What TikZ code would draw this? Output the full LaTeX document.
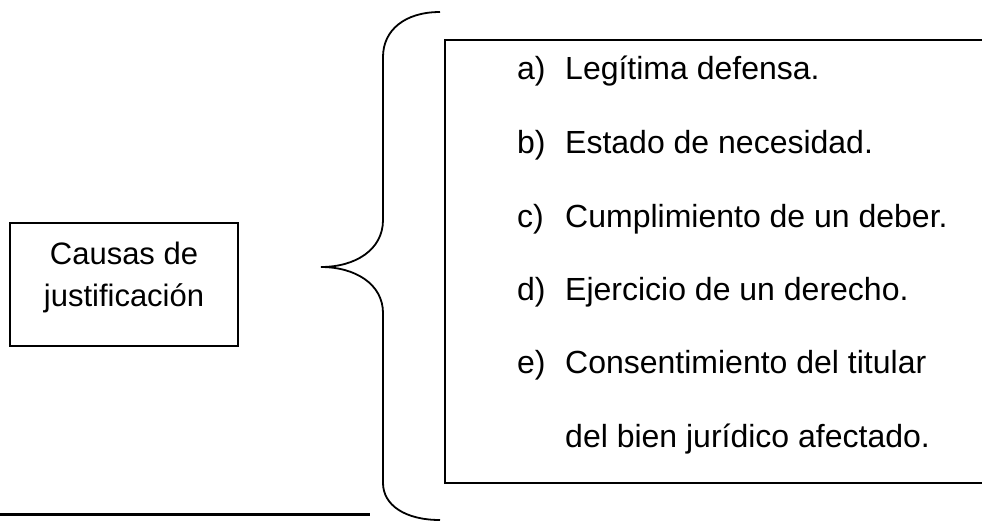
\documentclass[tikz,border=0pt]{standalone}
\usepackage{fontspec}
\setmainfont{Liberation Sans}
\begin{document}
\begin{tikzpicture}[x=1pt,y=-1pt,
  txt/.style={font=\fontsize{32}{40}\selectfont, inner sep=0pt, anchor=base west},
  ltxt/.style={font=\fontsize{31}{40}\selectfont, inner sep=0pt, anchor=base},
  frame/.style={draw=black, line width=2pt},
  bracepath/.style={draw=black, line width=1.8pt}]
\useasboundingbox (0,0) rectangle (982,522);
% left box
\node[frame, minimum width=228pt, minimum height=123pt, inner sep=0pt] (cause) at (124,284.5) {};
\node[ltxt] (c1) at (124,264) {Causas de};
\node[ltxt] (c2) at (124,306) {justificación};
% brace
\coordinate (btop) at (440,12);
\coordinate (tip) at (321,267);
\coordinate (bbot) at (440,520);
\path[bracepath] (btop) .. controls (405,12) and (383,30) .. (383,57)
  -- (383,220) .. controls (383,250) and (355,267) .. (tip)
  .. controls (355,267) and (383,284) .. (383,313)
  -- (383,483) .. controls (383,505) and (405,520) .. (bbot);
% right open box
\coordinate (rtr) at (982,40);
\coordinate (rtl) at (445,40);
\coordinate (rbl) at (445,483);
\coordinate (rbr) at (982,483);
\path[frame] (rtr) -- (rtl) -- (rbl) -- (rbr);
% items
\node[txt] (la) at (517,79) {a)};  \node[txt] (ta) at (565,79) {Legítima defensa.};
\node[txt] (lb) at (517,153) {b)}; \node[txt] (tb) at (565,153) {Estado de necesidad.};
\node[txt] (lc) at (517,227) {c)}; \node[txt] (tc) at (565,227) {Cumplimiento de un deber.};
\node[txt] (ld) at (517,300) {d)}; \node[txt] (td) at (565,300) {Ejercicio de un derecho.};
\node[txt] (le) at (517,373) {e)}; \node[txt] (te) at (565,373) {Consentimiento del titular};
\node[txt] (tf) at (565,447) {del bien jurídico afectado.};
% bottom rule
\coordinate (r1) at (0,514);
\coordinate (r2) at (370,514);
\draw[line width=3pt] (r1) -- (r2);
\end{tikzpicture}
\end{document}
